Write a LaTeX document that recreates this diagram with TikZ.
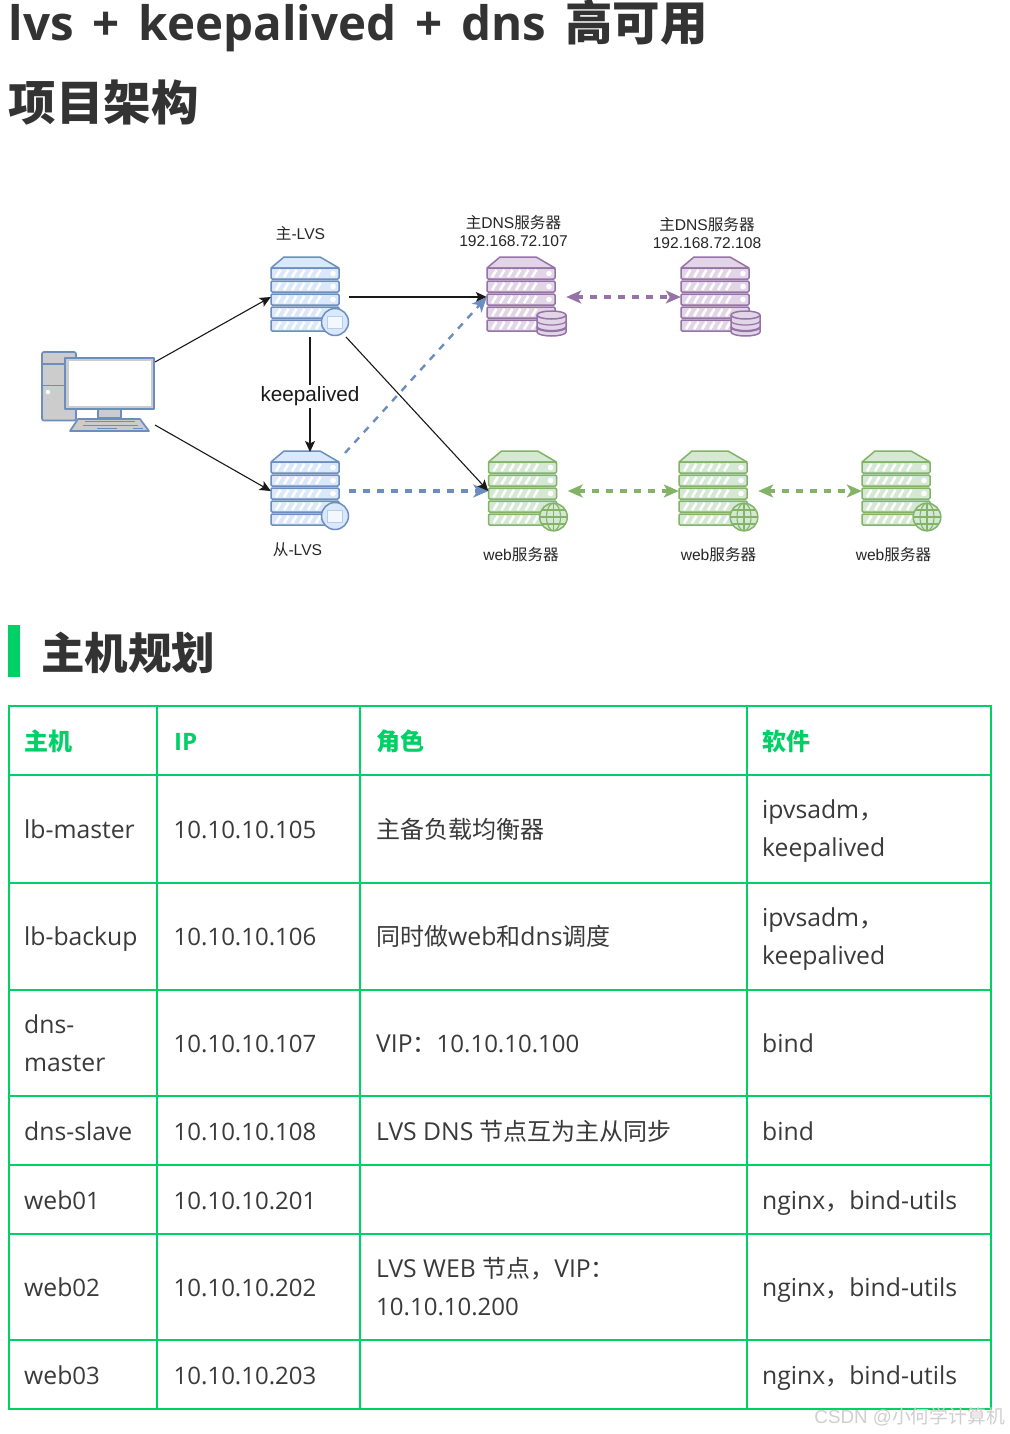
\documentclass[tikz,border=0pt]{standalone}
\usepackage{fontspec}
\setmainfont{Open Sans}
\newfontfamily\bodyfont[Scale=1.03]{Open Sans}
\newfontfamily\numfont{Open Sans}
\newfontfamily\zhfont{Noto Sans CJK SC}
\newfontfamily\arialfont{Liberation Sans}
\usetikzlibrary{arrows.meta}
\definecolor{bluestroke}{HTML}{6C8EBF}
\definecolor{bluefill}{HTML}{DAE8FC}
\definecolor{purplestroke}{HTML}{9673A6}
\definecolor{purplefill}{HTML}{E1D5E7}
\definecolor{greenstroke}{HTML}{82B366}
\definecolor{greenfill}{HTML}{D5E8D4}
\definecolor{pcgrey}{HTML}{CCCCCC}
\definecolor{tablegreen}{HTML}{00D166}
\definecolor{inktext}{HTML}{333333}
\definecolor{cellink}{HTML}{3A3A3A}
\definecolor{wmgrey}{HTML}{CFCFCF}
\newcommand{\zh}[1]{{\zhfont #1}}
\newcommand{\nm}[1]{{\numfont #1}}
\tikzset{
  srvframe/.style={inner sep=0,minimum width=68pt,minimum height=80pt},
  srvline/.style={line width=1.5pt,line join=round},
  diagramlabel/.style={inner sep=0,align=center,text=black!85,font=\arialfont\fontsize{15.6}{18}\selectfont},
  flow/.style={line width=1.1pt,-{Stealth[length=11pt,width=10pt,inset=2.5pt]},black!90},
  syncblue/.style={line width=2.4pt,dash pattern=on 7pt off 7pt,bluestroke,-{Stealth[length=15pt,width=13pt,inset=4pt]}},
  syncblueflat/.style={syncblue,line width=3.2pt},
  syncpurple/.style={line width=3.2pt,dash pattern=on 7pt off 7pt,purplestroke,{Stealth[length=15pt,width=13pt,inset=4pt]}-{Stealth[length=15pt,width=13pt,inset=4pt]}},
  syncgreen/.style={line width=3.2pt,dash pattern=on 7pt off 7pt,greenstroke,{Stealth[length=15pt,width=13pt,inset=4pt]}-{Stealth[length=15pt,width=13pt,inset=4pt]}},
  titletext/.style={anchor=base west,inner sep=0,text=inktext,font=\bfseries\fontsize{47.5}{50}\selectfont},
  cell/.style={anchor=west,inner sep=0,yshift=-2pt,align=left,text=cellink,font=\bodyfont\fontsize{24}{38}\selectfont},
  headcell/.style={anchor=west,inner sep=0,yshift=-2pt,align=left,text=tablegreen,font=\bfseries\fontsize{24}{38}\selectfont},
  gridline/.style={tablegreen,line width=1.6pt},
}
% server stack: #1 x, #2 y, #3 stroke, #4 fill, #5 name
\newcommand{\srvstack}[5]{%
  \node[srvframe] (#5) at (#1+34,#2+40) {};
  \begin{scope}[shift={(#1,#2)},srvline,draw=#3]
    \filldraw[fill=#4] (0,11) -- (13,0) -- (49,0) -- (68,11) -- cycle;
    \foreach \r in {11,24,37,50,63}{
      \filldraw[fill=#4,rounded corners=1.2pt] (0,\r) rectangle (68,\r+11);
      \foreach \s in {0,...,5}{
        \draw[white,line width=2.6pt] (5+\s*8,\r+9.2) -- (9.5+\s*8,\r+1.8);
      }
      \fill[white] (62,\r+5.5) circle (2.8);
    }
  \end{scope}
}
\newcommand{\lvsbadge}[2]{%
  \begin{scope}[shift={(#1,#2)},srvline,draw=bluestroke]
    \filldraw[fill=bluefill] (64,65) circle (13.5);
    \fill[white,opacity=.7] (56.5,59) rectangle (71.5,71);
    \draw[bluefill!70!bluestroke,line width=.5pt] (56.5,59) rectangle (71.5,71);
  \end{scope}
}
\newcommand{\dbbadge}[2]{%
  \begin{scope}[shift={(#1,#2)},srvline,draw=purplestroke]
    \filldraw[fill=purplefill] (50,58) -- (50,75) arc[start angle=180,end angle=0,x radius=14.5,y radius=4] -- (79,58) arc[start angle=0,end angle=-180,x radius=14.5,y radius=4] -- cycle;
    \draw (50,58) arc[start angle=180,end angle=0,x radius=14.5,y radius=4];
    \draw[line width=1.2pt] (50,64) arc[start angle=180,end angle=0,x radius=14.5,y radius=4];
    \draw[line width=2.2pt] (50,70) arc[start angle=180,end angle=0,x radius=14.5,y radius=4];
  \end{scope}
}
\newcommand{\globebadge}[2]{%
  \begin{scope}[shift={(#1,#2)},draw=greenstroke,line width=1.1pt]
    \filldraw[fill=greenfill,line width=1.5pt] (65,66) circle (13.8);
    \draw (65,66) ellipse [x radius=7,y radius=13.8];
    \draw (65,52.2) -- (65,79.8);
    \draw (51.2,66) -- (78.8,66);
    \draw (53,59) -- (77,59);
    \draw (53,73) -- (77,73);
  \end{scope}
}
\begin{document}
\begin{tikzpicture}[x=1pt,y=-1pt]
\fill[white] (0,0) rectangle (1009,1434);
\useasboundingbox (0,0) rectangle (1009,1434);

% headings
\node[titletext] (title1) at (8.5,41) {\spaceskip=19pt lvs + keepalived + dns \zh{高可用}};
\node[titletext] (title2) at (8.5,121) {\zh{项目架构}};
\fill[tablegreen] (8,625) rectangle (20,677);
\node[anchor=base west,inner sep=0,text=inktext,font=\bfseries\fontsize{43.5}{46}\selectfont] (sec) at (41,669) {\zh{主机规划}};

% computer
\node[inner sep=0,minimum width=113pt,minimum height=79pt] (pc) at (98.5,391.5) {};
\coordinate (pcA) at (155,362);
\coordinate (pcB) at (155,425);
\begin{scope}[line width=1.7pt,draw=bluestroke,line join=round]
  \filldraw[fill=pcgrey,rounded corners=2pt] (42,352) rectangle (76,420.5);
  \draw (42,364) -- (76,364);
  \draw (42,385.5) -- (76,385.5);
  \fill[white] (48,392) circle (2.2);
  \filldraw[fill=pcgrey] (98,409) rectangle (121,418);
  \filldraw[fill=pcgrey] (78,419) -- (140,419) -- (149,431) -- (70,431) -- cycle;
  \draw[line width=1pt] (85,421.8) -- (135,421.8);
  \draw[line width=1pt] (83,425) -- (138,425);
  \draw[line width=1pt] (97,428.2) -- (117,428.2);
  \draw[line width=1pt] (133,428.2) -- (143,428.2);
  \filldraw[fill=pcgrey] (65,358) rectangle (154,409);
  \fill[white] (68.5,361) rectangle (151,406);
\end{scope}

% servers
\srvstack{271}{257}{bluestroke}{bluefill}{lvsA}
\lvsbadge{271}{257}
\srvstack{271}{451}{bluestroke}{bluefill}{lvsB}
\lvsbadge{271}{451}
\srvstack{487}{257}{purplestroke}{purplefill}{dnsA}
\dbbadge{487}{257}
\srvstack{681}{257}{purplestroke}{purplefill}{dnsB}
\dbbadge{681}{257}
\srvstack{488.5}{451}{greenstroke}{greenfill}{webA}
\globebadge{488.5}{451}
\srvstack{679}{451}{greenstroke}{greenfill}{webB}
\globebadge{679}{451}
\srvstack{862}{451}{greenstroke}{greenfill}{webC}
\globebadge{862}{451}

% labels
\node[diagramlabel] (lblLvsA) at (300.5,233.5) {\zh{主}-LVS};
\node[diagramlabel] (lblLvsB) at (297.5,549.5) {\zh{从}-LVS};
\node[diagramlabel] (lblDnsA) at (513.5,231) {\zh{主}DNS\zh{服务器}\\192.168.72.107};
\node[diagramlabel] (lblDnsB) at (707,233) {\zh{主}DNS\zh{服务器}\\192.168.72.108};
\node[diagramlabel] (lblWebA) at (521,555) {web\zh{服务器}};
\node[diagramlabel] (lblWebB) at (718.5,555) {web\zh{服务器}};
\node[diagramlabel] (lblWebC) at (893.5,555) {web\zh{服务器}};

% connectors
\coordinate (lvsAout) at (346,337);
\coordinate (lvsAdown) at (310,337);
\coordinate (lvsBdown) at (310,452);
\coordinate (lvsBout) at (345,453);
\draw[flow] (pcA) -- (lvsA.west);
\draw[flow] (pcB) -- (lvsB.west);
\draw[flow] ([xshift=10pt]lvsA.east) -- (dnsA.west);
\draw[syncblueflat] ([xshift=10pt]lvsB.east) -- (webA.west);
\draw[syncblue] (lvsBout) -- (dnsA.west);
\draw[flow] (lvsAout) -- (webA.west);
\draw[flow] (lvsAdown) -- node[fill=white,inner sep=2pt,yshift=-2pt,text=black!90,font=\arialfont\fontsize{20.7}{24}\selectfont] (ka) {keepalived} (lvsBdown);
\draw[syncpurple] ([xshift=11pt]dnsA.east) -- (dnsB.west);
\draw[syncgreen] ([xshift=11pt]webA.east) -- (webB.west);
\draw[syncgreen] ([xshift=11pt]webB.east) -- (webC.west);

% table grid
\foreach \gx in {9,157,360,747,991}{\draw[gridline] (\gx,705) -- (\gx,1410);}
\foreach \gy in {706,775,883,990,1096,1165,1234,1340,1409}{\draw[gridline] (8,\gy) -- (992,\gy);}

% table text
\node[headcell] (h1) at (24,740.5) {\strut\zh{主机}};
\node[headcell] (h2) at (174,740.5) {\strut IP};
\node[headcell] (h3) at (376,740.5) {\strut\zh{角色}};
\node[headcell] (h4) at (762,740.5) {\strut\zh{软件}};

\node[cell] (a1) at (24,829) {\strut lb-master};
\node[cell] (b1) at (173.5,829) {\strut\nm{10.10.10.105}};
\node[cell] (c1) at (376,829) {\strut\zh{主备负载均衡器}};
\node[cell] (d1) at (762,828) {\strut ipvsadm\zh{，}\\\strut keepalived};

\node[cell] (a2) at (24,936) {\strut lb-backup};
\node[cell] (b2) at (173.5,936) {\strut\nm{10.10.10.106}};
\node[cell] (c2) at (376,936) {\strut\zh{同时做}web\zh{和}dns\zh{调度}};
\node[cell] (d2) at (762,936) {\strut ipvsadm\zh{，}\\\strut keepalived};

\node[cell] (a3) at (24,1042.5) {\strut dns-\\\strut master};
\node[cell] (b3) at (173.5,1042.5) {\strut\nm{10.10.10.107}};
\node[cell] (c3) at (376,1042.5) {\strut VIP\zh{：}\nm{10.10.10.100}};
\node[cell] (d3) at (762,1042.5) {\strut bind};

\node[cell] (a4) at (24,1130.5) {\strut dns-slave};
\node[cell] (b4) at (173.5,1130.5) {\strut\nm{10.10.10.108}};
\node[cell] (c4) at (376,1130.5) {\strut LVS DNS \zh{节点互为主从同步}};
\node[cell] (d4) at (762,1130.5) {\strut bind};

\node[cell] (a5) at (24,1199.5) {\strut web\nm{01}};
\node[cell] (b5) at (173.5,1199.5) {\strut\nm{10.10.10.201}};
\node[cell] (d5) at (762,1199.5) {\strut nginx\zh{，}bind-utils};

\node[cell] (a6) at (24,1287) {\strut web\nm{02}};
\node[cell] (b6) at (173.5,1287) {\strut\nm{10.10.10.202}};
\node[cell] (c6) at (376,1287) {\strut LVS WEB \zh{节点，}VIP\zh{：}\\\strut\nm{10.10.10.200}};
\node[cell] (d6) at (762,1287) {\strut nginx\zh{，}bind-utils};

\node[cell] (a7) at (24,1375) {\strut web\nm{03}};
\node[cell] (b7) at (173.5,1375) {\strut\nm{10.10.10.203}};
\node[cell] (d7) at (762,1375) {\strut nginx\zh{，}bind-utils};

% watermark
\node[anchor=base east,inner sep=0,text=wmgrey,font=\arialfont\fontsize{18.8}{22}\selectfont] (wm) at (1005,1423) {CSDN @\zh{小何学计算机}};
\end{tikzpicture}
\end{document}
